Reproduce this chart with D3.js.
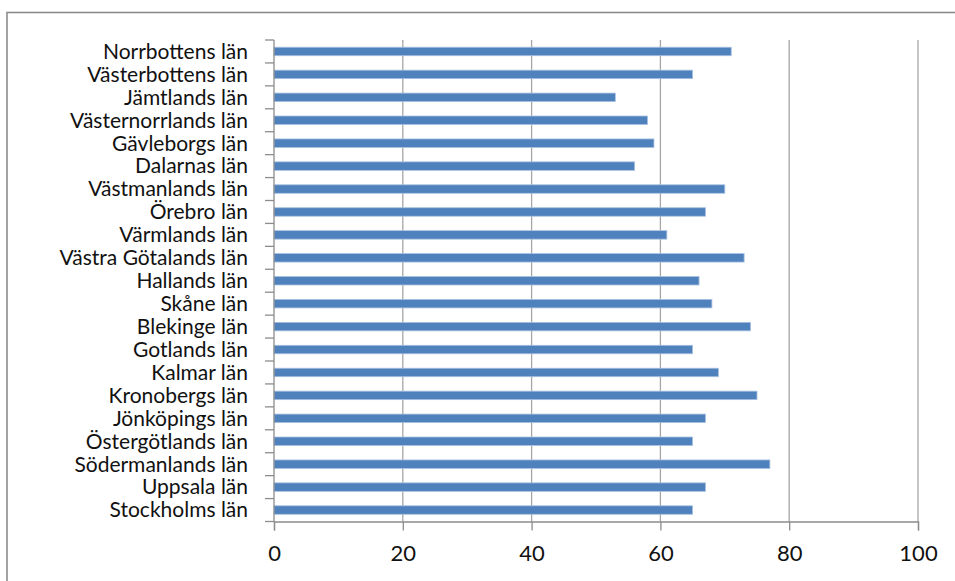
<!DOCTYPE html>
<html>
<head>
<meta charset="utf-8">
<script src="https://cdn.jsdelivr.net/npm/d3@7"></script>
<style>
  html, body { margin: 0; padding: 0; background: #fff; }
  svg { display: block; }
  text { font-family: Lato, "Open Sans", sans-serif; fill: #111; }
</style>
</head>
<body>
<svg id="chart" width="955" height="581"></svg>
<script>
// Counties, listed top to bottom as drawn
const counties = [
  "Norrbottens län", "Västerbottens län", "Jämtlands län", "Västernorrlands län",
  "Gävleborgs län", "Dalarnas län", "Västmanlands län", "Örebro län",
  "Värmlands län", "Västra Götalands län", "Hallands län", "Skåne län",
  "Blekinge län", "Gotlands län", "Kalmar län", "Kronobergs län",
  "Jönköpings län", "Östergötlands län", "Södermanlands län", "Uppsala län",
  "Stockholms län"
];
const values = [71, 65, 53, 58, 59, 56, 70, 67, 61, 73, 66, 68, 74, 65, 69, 75, 67, 65, 77, 67, 65];
const xTicks = [0, 20, 40, 60, 80, 100];

const svg = d3.select("#chart");
const plot = { left: 274, right: 918, top: 40, bottom: 521.5 };

// outer frame
svg.append("rect")
  .attr("x", 7).attr("y", 12.5)
  .attr("width", 1000).attr("height", 1000)
  .attr("fill", "none").attr("stroke", "#8c8c8c").attr("stroke-width", 1.6);

const x = d3.scaleLinear().domain([0, 100]).range([plot.left, plot.right]);
const y = d3.scaleBand().domain(counties).range([plot.top, plot.bottom]).paddingInner(0.63).paddingOuter(0.315);
const yBand = d3.scaleBand().domain(counties).range([plot.top, plot.bottom]);

// vertical gridlines
svg.append("g").selectAll("line").data(xTicks.slice(1)).join("line")
  .attr("x1", d => x(d)).attr("x2", d => x(d))
  .attr("y1", plot.top).attr("y2", plot.bottom)
  .attr("stroke", "#a6a6a6").attr("stroke-width", 1.3);

// bars
svg.append("g").selectAll("rect").data(values).join("rect")
  .attr("x", x(0))
  .attr("y", (d, i) => y(counties[i]))
  .attr("width", d => x(d) - x(0))
  .attr("height", y.bandwidth())
  .attr("fill", "#4f81bd")
  .attr("stroke", "#a9c1e0").attr("stroke-width", 0.8);

// x axis
const xAxis = svg.append("g")
  .attr("transform", `translate(0,${plot.bottom})`)
  .call(d3.axisBottom(x).tickValues(xTicks).tickSize(9).tickPadding(15));
xAxis.select(".domain").attr("stroke", "#8c8c8c").attr("stroke-width", 1.3);
xAxis.selectAll(".tick line").attr("stroke", "#8c8c8c").attr("stroke-width", 1.3);
xAxis.selectAll(".tick text")
  .attr("font-size", 22).attr("font-family", "Lato, sans-serif").attr("fill", "#111");

// y axis with boundary ticks between categories
const yg = svg.append("g");
yg.append("line")
  .attr("x1", plot.left).attr("x2", plot.left)
  .attr("y1", plot.top).attr("y2", plot.bottom)
  .attr("stroke", "#8c8c8c").attr("stroke-width", 1.3);
const bounds = counties.map(c => yBand(c)).concat([plot.bottom]);
yg.selectAll("line.b").data(bounds).join("line").attr("class", "b")
  .attr("x1", plot.left - 9).attr("x2", plot.left)
  .attr("y1", d => d).attr("y2", d => d)
  .attr("stroke", "#8c8c8c").attr("stroke-width", 1.3);

yg.selectAll("text").data(counties).join("text")
  .attr("x", 248)
  .attr("y", c => yBand(c) + yBand.bandwidth() / 2)
  .attr("dy", "0.35em")
  .attr("text-anchor", "end")
  .attr("font-size", 21)
  .text(c => c);
</script>
</body>
</html>
